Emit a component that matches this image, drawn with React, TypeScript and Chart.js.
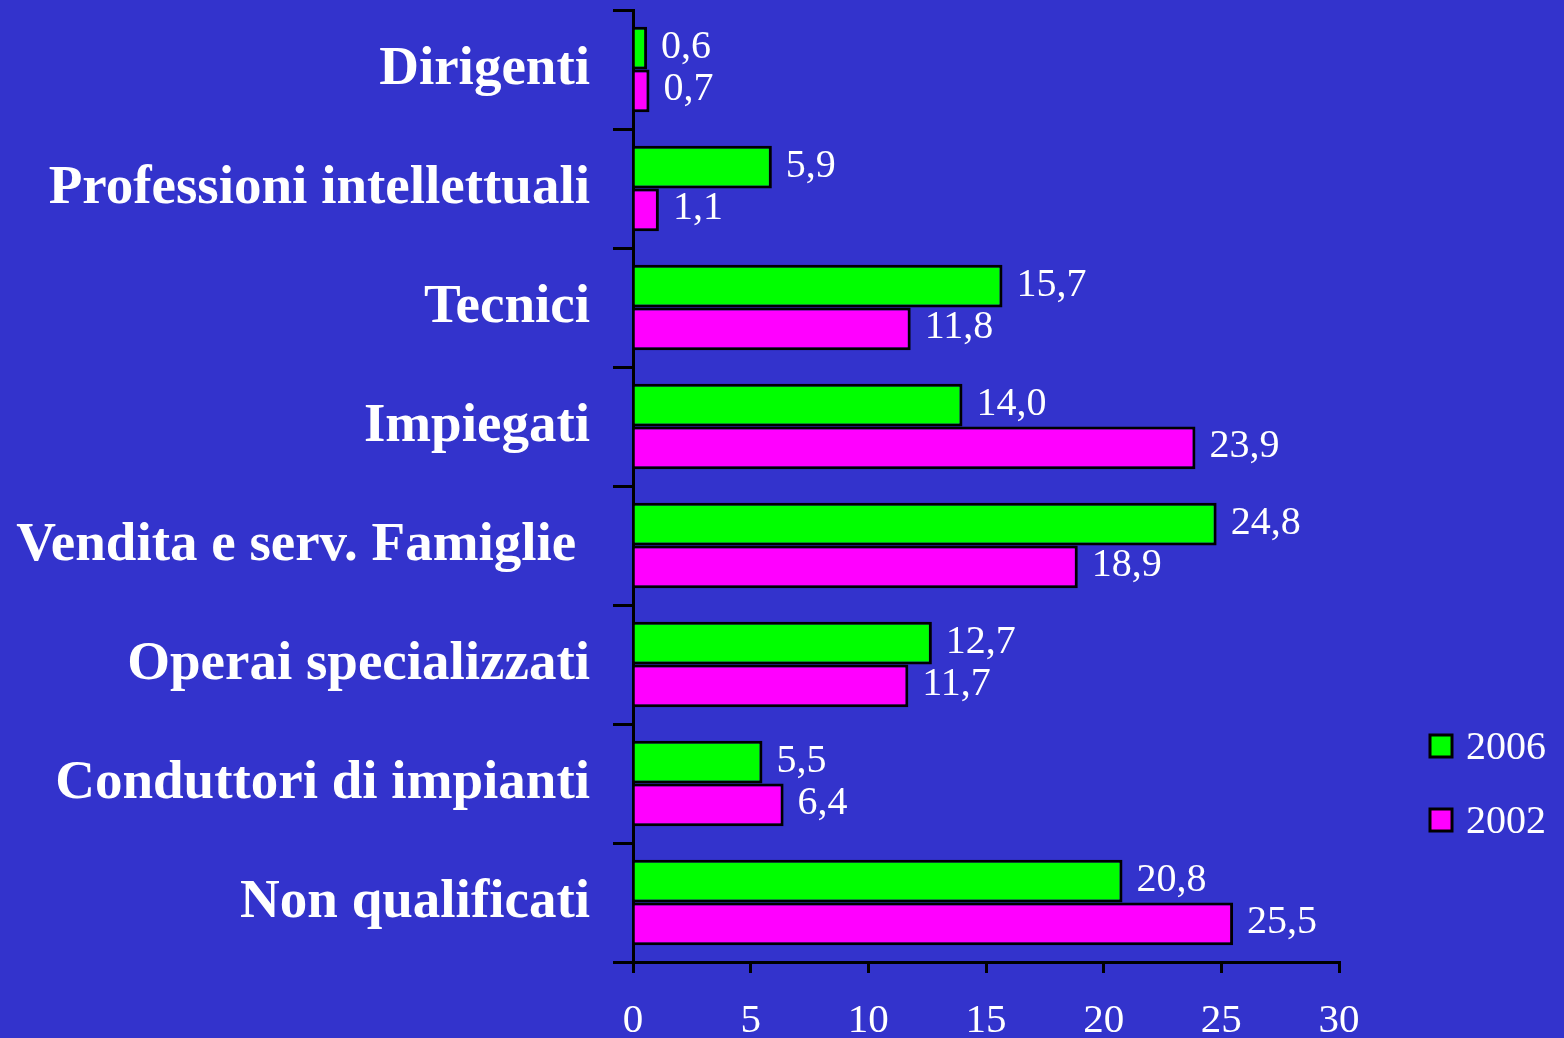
import React, { useEffect, useRef } from "react";
import { Chart, registerables } from "chart.js";

Chart.register(...registerables);

const categories = [
  "Dirigenti",
  "Professioni intellettuali",
  "Tecnici",
  "Impiegati",
  "Vendita e serv. Famiglie ",
  "Operai specializzati",
  "Conduttori di impianti",
  "Non qualificati",
];
const series2006 = [0.6, 5.9, 15.7, 14.0, 24.8, 12.7, 5.5, 20.8];
const series2002 = [0.7, 1.1, 11.8, 23.9, 18.9, 11.7, 6.4, 25.5];
const seriesNames = ["2006", "2002"];
const seriesColors = ["#00FF00", "#FF00FF"];
const xTicks = [0, 5, 10, 15, 20, 25, 30];

const BG = "#3333CC";
const SERIF = "'Liberation Serif', 'Times New Roman', serif";

const fmt = (v: number) => v.toFixed(1).replace(".", ",");

const valueLabels = {
  id: "valueLabels",
  afterDatasetsDraw(chart: any) {
    const ctx = chart.ctx;
    ctx.save();
    ctx.fillStyle = "#FFFFFF";
    ctx.font = `40px ${SERIF}`;
    ctx.textAlign = "left";
    ctx.textBaseline = "middle";
    chart.data.datasets.forEach((ds: any, di: number) => {
      const meta = chart.getDatasetMeta(di);
      meta.data.forEach((el: any, i: number) => {
        ctx.fillText(fmt(ds.data[i]), el.x + 14, el.y - 1);
      });
    });
    ctx.restore();
  },
};

const customLegend = {
  id: "customLegend",
  afterDraw(chart: any) {
    const ctx = chart.ctx;
    ctx.save();
    const ys = [746, 820];
    seriesNames.forEach((name, i) => {
      const y = ys[i];
      ctx.fillStyle = seriesColors[i];
      ctx.fillRect(1430, y - 11, 22, 22);
      ctx.strokeStyle = "#000000";
      ctx.lineWidth = 3;
      ctx.strokeRect(1430, y - 11, 22, 22);
      ctx.fillStyle = "#FFFFFF";
      ctx.font = `40px ${SERIF}`;
      ctx.textAlign = "left";
      ctx.textBaseline = "middle";
      ctx.fillText(name, 1466, y + 2);
    });
    ctx.restore();
  },
};

export default function App() {
  const ref = useRef<HTMLCanvasElement>(null);
  useEffect(() => {
    if (!ref.current) return;
    const chart = new Chart(ref.current, {
      type: "bar",
      data: {
        labels: categories,
        datasets: [
          {
            label: seriesNames[0],
            data: series2006,
            backgroundColor: seriesColors[0],
            borderColor: "#000000",
            borderWidth: 3,
          },
          {
            label: seriesNames[1],
            data: series2002,
            backgroundColor: seriesColors[1],
            borderColor: "#000000",
            borderWidth: 3,
          },
        ],
      },
      options: {
        indexAxis: "y",
        responsive: false,
        animation: false,
        color: "#FFFFFF",
        datasets: {
          bar: { categoryPercentage: 0.72, barPercentage: 1 },
        },
        layout: { padding: { top: 10, right: 225, left: 0, bottom: 0 } },
        plugins: {
          legend: { display: false },
          tooltip: { enabled: false },
        },
        scales: {
          x: {
            type: "linear",
            min: 0,
            max: 30,
            afterFit: (s: any) => {
              s.height = 76;
              s.paddingLeft = 0;
              s.paddingRight = 0;
            },
            afterBuildTicks: (s: any) => {
              s.ticks = xTicks.map((v) => ({ value: v }));
            },
            ticks: {
              color: "#FFFFFF",
              font: { family: SERIF, size: 41 },
              padding: 24,
              maxRotation: 0,
            },
            grid: {
              drawOnChartArea: false,
              drawTicks: true,
              tickLength: 11,
              color: "#000000",
              lineWidth: 3,
            },
            border: { color: "#000000", width: 3 },
          },
          y: {
            type: "category",
            afterFit: (s: any) => {
              s.width = 633;
              s.paddingTop = 0;
              s.paddingBottom = 0;
            },
            ticks: {
              color: "#FFFFFF",
              font: { family: SERIF, size: 55, weight: "bold" },
              padding: 23,
              autoSkip: false,
            },
            grid: {
              offset: true,
              drawOnChartArea: false,
              drawTicks: true,
              tickLength: 20,
              color: "#000000",
              lineWidth: 3,
            },
            border: { color: "#000000", width: 3 },
          },
        },
      } as any,
      plugins: [valueLabels, customLegend],
    });
    return () => chart.destroy();
  }, []);

  return (
    <div
      style={{
        position: "fixed",
        left: 0,
        top: 0,
        width: 1564,
        height: 1038,
        background: BG,
      }}
    >
      <canvas ref={ref} width={1564} height={1038} />
    </div>
  );
}
